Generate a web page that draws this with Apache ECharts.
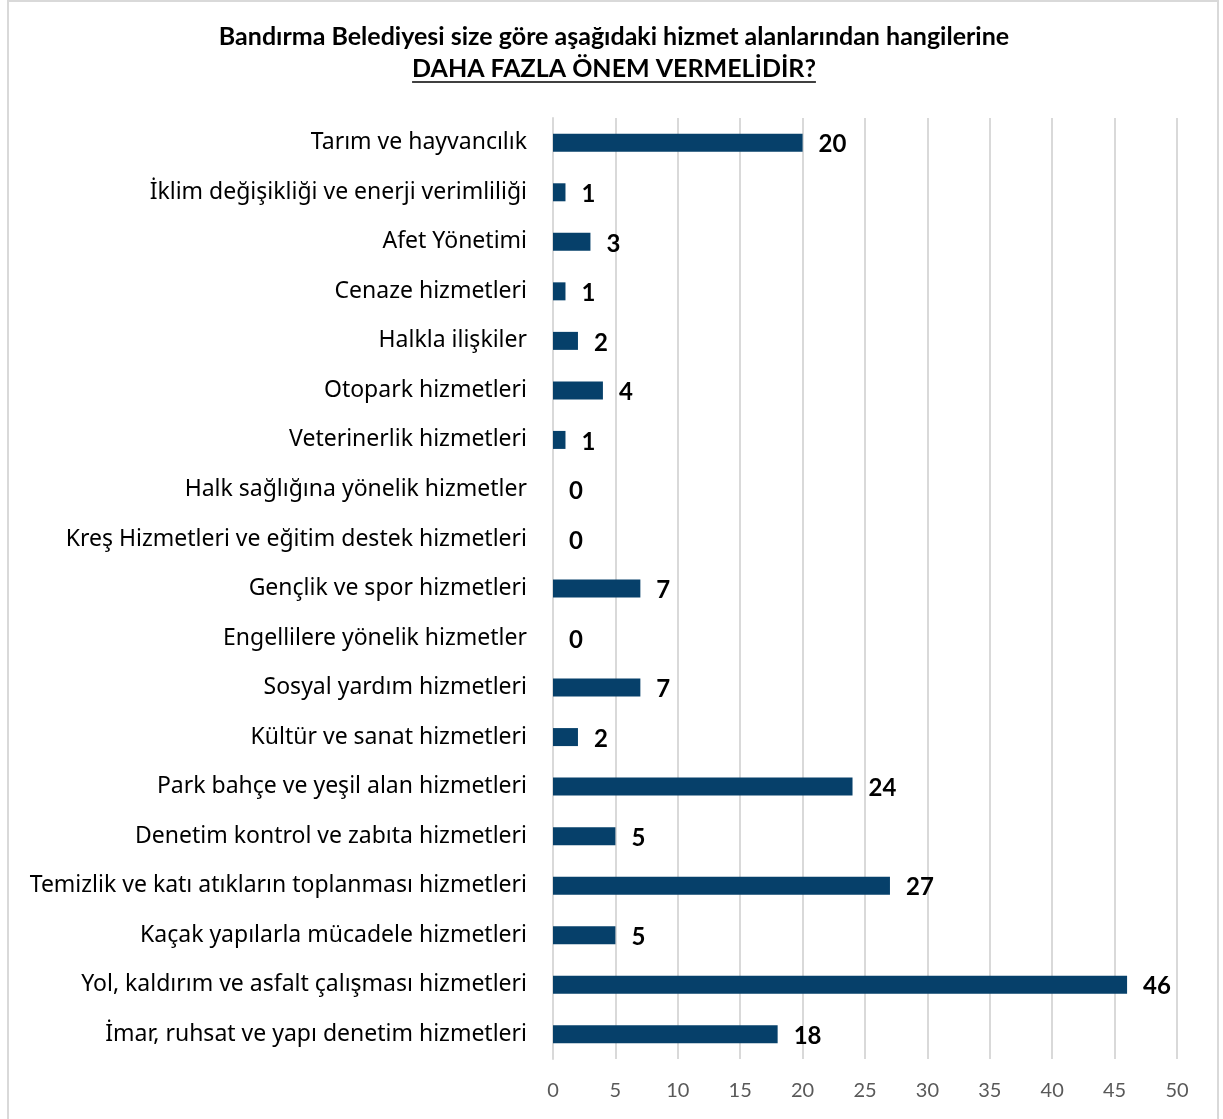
<!DOCTYPE html>
<html>
<head>
<meta charset="utf-8">
<script src="https://cdn.jsdelivr.net/npm/echarts@6/dist/echarts.min.js"></script>
<style>
html,body{margin:0;padding:0;background:#fff;}
#c{width:1223px;height:1119px;}
</style>
</head>
<body>
<div id="c"></div>
<script>
const titleLine1 = 'Bandırma Belediyesi size göre aşağıdaki hizmet alanlarından hangilerine';
const titleLine2 = 'DAHA FAZLA ÖNEM VERMELİDİR?';
const categories = [
  'Tarım ve hayvancılık',
  'İklim değişikliği ve enerji verimliliği',
  'Afet Yönetimi',
  'Cenaze hizmetleri',
  'Halkla ilişkiler',
  'Otopark hizmetleri',
  'Veterinerlik hizmetleri',
  'Halk sağlığına yönelik hizmetler',
  'Kreş Hizmetleri ve eğitim destek hizmetleri',
  'Gençlik ve spor hizmetleri',
  'Engellilere yönelik hizmetler',
  'Sosyal yardım hizmetleri',
  'Kültür ve sanat hizmetleri',
  'Park bahçe ve yeşil alan hizmetleri',
  'Denetim kontrol ve zabıta hizmetleri',
  'Temizlik ve katı atıkların toplanması hizmetleri',
  'Kaçak yapılarla mücadele hizmetleri',
  'Yol, kaldırım ve asfalt çalışması hizmetleri',
  'İmar, ruhsat ve yapı denetim hizmetleri'
];
const values = [20, 1, 3, 1, 2, 4, 1, 0, 0, 7, 0, 7, 2, 24, 5, 27, 5, 46, 18];
const axisMin = 0, axisMax = 50, axisStep = 5;

const titleFont = 'bold 25px Lato';
const cv = document.createElement('canvas').getContext('2d');
cv.font = titleFont;
const w2 = cv.measureText(titleLine2).width;
const cx = 614;

const chart = echarts.init(document.getElementById('c'), null, {renderer: 'canvas'});
chart.setOption({
  animation: false,
  backgroundColor: '#ffffff',
  graphic: [
    {type: 'rect', shape: {x: 8, y: 1, width: 1210, height: 1140},
     style: {fill: 'none', stroke: '#d9d9d9', lineWidth: 2}, silent: true},
    {type: 'text', x: cx, y: 37, style: {text: titleLine1, font: titleFont, fill: '#000',
      textAlign: 'center', textVerticalAlign: 'middle'}},
    {type: 'text', x: cx, y: 69, style: {text: titleLine2, font: titleFont, fill: '#000',
      textAlign: 'center', textVerticalAlign: 'middle'}},
    {type: 'line', shape: {x1: cx - w2 / 2, y1: 82, x2: cx + w2 / 2, y2: 82},
      style: {stroke: '#000', lineWidth: 1.5}}
  ],
  grid: {left: 553, right: 46, top: 118, bottom: 60, containLabel: false},
  xAxis: {
    type: 'value', min: axisMin, max: axisMax, interval: axisStep,
    axisLine: {show: false}, axisTick: {show: false},
    splitLine: {show: true, lineStyle: {color: '#d9d9d9', width: 2}},
    axisLabel: {color: '#595959', fontFamily: 'Lato', fontSize: 20, margin: 22}
  },
  yAxis: {
    type: 'category', data: categories, inverse: true,
    axisLine: {show: true, lineStyle: {color: '#d9d9d9', width: 2}},
    axisTick: {show: false},
    axisLabel: {color: '#000', fontFamily: "'Noto Sans', 'Open Sans', sans-serif", fontSize: 23, margin: 26}
  },
  series: [{
    type: 'bar', data: values, barWidth: 18,
    itemStyle: {color: '#06406a'},
    label: {show: true, position: 'right', distance: 16, offset: [0, 2], color: '#000',
      fontFamily: 'Lato', fontWeight: 'bold', fontSize: 24}
  }]
});
</script>
</body>
</html>
